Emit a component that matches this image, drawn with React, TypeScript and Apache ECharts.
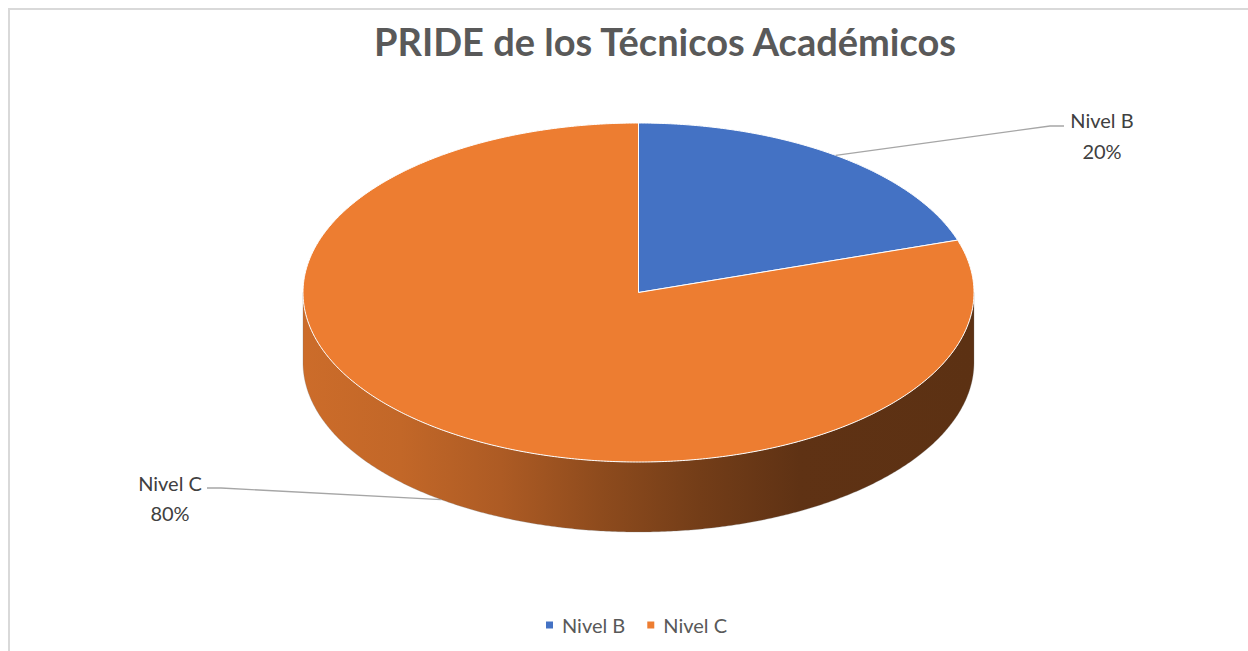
import React, { useEffect, useRef } from "react";
import * as echarts from "echarts";

// ---- data ----
const categories: string[] = ["Nivel B", "Nivel C"];
const values: number[] = [20, 80];
const sliceColors: string[] = ["#4472C4", "#ED7D31"];
const titleText = "PRIDE de los Técnicos Académicos";

// ---- layout (not data) ----
const FONT = "Lato, 'Open Sans', sans-serif";
const PIE = { cx: 638.5, cy: 292.5, rx: 335.5, ry: 169.5, depth: 70 };
const LABEL_LAYOUT = [
  { onBottom: false, elbow: [1050, 126], end: [1064, 126], textX: 1102, nameY: 120, pctY: 151 },
  { onBottom: true, elbow: [221, 488], end: [207, 488], textX: 170, nameY: 483, pctY: 513 },
];
// wall shading: [offset, brightness factor]
const WALL_SHADE: [number, number][] = [
  [0, 0.86],
  [0.146, 0.82],
  [0.295, 0.73],
  [0.443, 0.6],
  [0.592, 0.485],
  [0.741, 0.4],
  [1, 0.39],
];

function shade(hex: string, f: number): string {
  const n = parseInt(hex.slice(1), 16);
  const r = Math.round(((n >> 16) & 255) * f);
  const g = Math.round(((n >> 8) & 255) * f);
  const b = Math.round((n & 255) * f);
  return `rgb(${r},${g},${b})`;
}

function pt(tDeg: number, dy: number): number[] {
  const t = (tDeg * Math.PI) / 180;
  return [PIE.cx + PIE.rx * Math.sin(t), PIE.cy - PIE.ry * Math.cos(t) + dy];
}

function arc(a: number, b: number, dy: number): number[][] {
  const pts: number[][] = [];
  const n = Math.max(2, Math.ceil(Math.abs(b - a) / 0.5));
  for (let k = 0; k <= n; k++) pts.push(pt(a + ((b - a) * k) / n, dy));
  return pts;
}

export default function App() {
  const ref = useRef<HTMLDivElement>(null);
  useEffect(() => {
    if (!ref.current) return;
    const chart = echarts.init(ref.current, undefined, { renderer: "svg" });
    const total = values.reduce((s, v) => s + v, 0);

    const renderItem = (params: any, api: any) => {
      const i = params.dataIndex;
      const v = api.value(0);
      let cum = 0;
      for (let j = 0; j < i; j++) cum += values[j];
      const t0 = (360 * cum) / total;
      const t1 = (360 * (cum + v)) / total;
      const color = sliceColors[i];
      const children: any[] = [];

      // front wall
      const a = Math.max(t0, 90);
      const b = Math.min(t1, 270);
      if (a < b) {
        const pts = arc(a, b, 0).concat(arc(b, a, PIE.depth));
        children.push({
          type: "polygon",
          shape: { points: pts },
          style: {
            fill: new echarts.graphic.LinearGradient(
              PIE.cx - PIE.rx,
              0,
              PIE.cx + PIE.rx,
              0,
              WALL_SHADE.map(([o, f]) => ({ offset: o, color: shade(color, f) })),
              true
            ),
            stroke: "rgba(120,120,120,0.35)",
            lineWidth: 0.8,
          },
        });
      }
      // top face
      const topPts = [[PIE.cx, PIE.cy]].concat(arc(t0, t1, 0));
      children.push({
        type: "polygon",
        shape: { points: topPts },
        style: { fill: color, stroke: "#ffffff", lineWidth: 1 },
      });

      // label + leader line
      const L = LABEL_LAYOUT[i];
      const mid = (t0 + t1) / 2;
      const p0 = pt(mid, L.onBottom ? PIE.depth : 0);
      children.push({
        type: "polyline",
        shape: { points: [p0, L.elbow, L.end] },
        style: { stroke: "#a6a6a6", lineWidth: 1.3, fill: null },
      });
      const pct = Math.round((v / total) * 100) + "%";
      children.push({
        type: "text",
        style: {
          text: categories[i],
          x: L.textX,
          y: L.nameY,
          fill: "#404040",
          font: `20px ${FONT}`,
          align: "center",
          verticalAlign: "middle",
          textAlign: "center",
          textVerticalAlign: "middle",
        },
      });
      children.push({
        type: "text",
        style: {
          text: pct,
          x: L.textX,
          y: L.pctY,
          fill: "#404040",
          font: `20px ${FONT}`,
          align: "center",
          verticalAlign: "middle",
          textAlign: "center",
          textVerticalAlign: "middle",
        },
      });
      return { type: "group", children };
    };

    chart.setOption({
      animation: false,
      backgroundColor: "#ffffff",
      graphic: [
        {
          type: "rect",
          shape: { x: 9, y: 9, width: 1400, height: 800 },
          style: { fill: "none", stroke: "#d9d9d9", lineWidth: 2 },
          silent: true,
        },
        {
          type: "text",
          x: 665,
          y: 41,
          style: {
            text: titleText,
            font: `bold 38px ${FONT}`,
            fill: "#595959",
            align: "center",
            verticalAlign: "middle",
            textAlign: "center",
            textVerticalAlign: "middle",
          },
        },
      ],
      legend: {
        data: categories,
        left: 541,
        top: 610,
        icon: "rect",
        itemWidth: 7,
        itemHeight: 7,
        itemGap: 22,
        textStyle: { fontSize: 20, color: "#595959", fontFamily: FONT, padding: [0, 0, 0, 4] },
        selectedMode: false,
      },
      series: [
        {
          type: "custom",
          name: "PRIDE",
          coordinateSystem: "none",
          renderItem,
          data: values.map((v, i) => ({ name: categories[i], value: [v] })),
          silent: true,
        },
        {
          type: "pie",
          name: "legend",
          radius: [0, 0],
          center: [PIE.cx, PIE.cy],
          silent: true,
          label: { show: false },
          labelLine: { show: false },
          data: values.map((v, i) => ({
            name: categories[i],
            value: v,
            itemStyle: { color: sliceColors[i] },
          })),
        },
      ],
    });
    return () => chart.dispose();
  }, []);
  return (
    <div
      ref={ref}
      style={{ position: "fixed", left: 0, top: 0, width: 1248, height: 651, background: "#fff" }}
    />
  );
}
